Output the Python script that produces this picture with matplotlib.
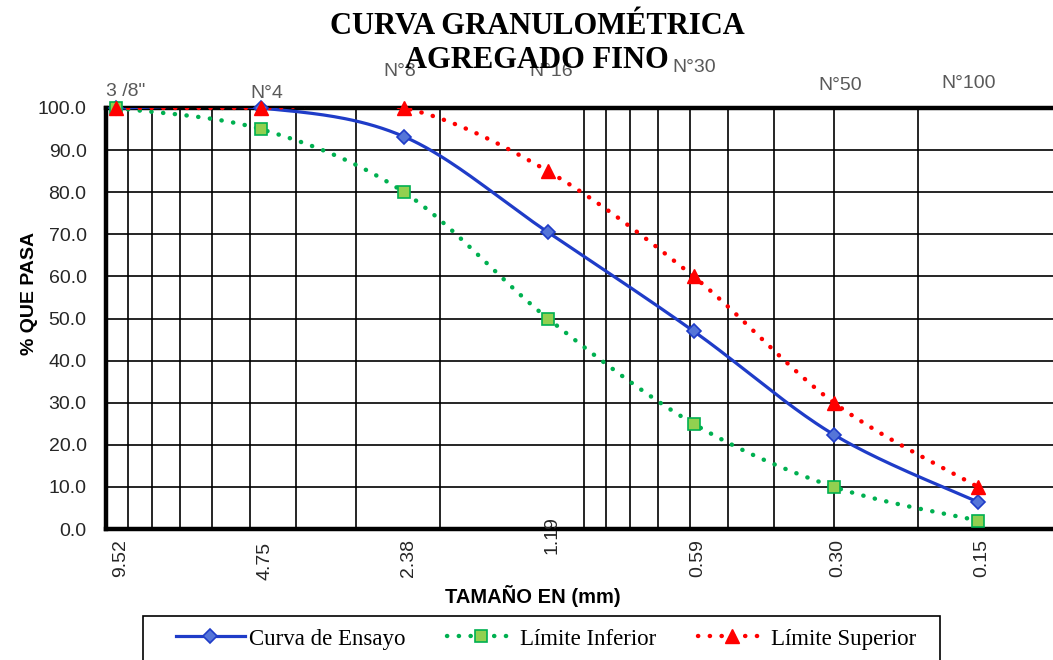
import numpy as np
import matplotlib
matplotlib.use("Agg")
import matplotlib.pyplot as plt
from matplotlib.lines import Line2D
from matplotlib.patches import Rectangle
from matplotlib.ticker import LogLocator, MultipleLocator, FormatStrFormatter, NullFormatter

# Datos de la curva granulométrica
tamices = ['3 /8"', "N°4", "N°8", "N°16", "N°30", "N°50", "N°100"]
abertura_mm = [9.52, 4.75, 2.38, 1.19, 0.59, 0.30, 0.15]
abertura_txt = ["9.52", "4.75", "2.38", "1.19", "0.59", "0.30", "0.15"]
curva_ensayo = [100.0, 100.0, 93.2, 70.5, 47.0, 22.4, 6.4]
limite_inferior = [100.0, 95.0, 80.0, 50.0, 25.0, 10.0, 2.0]
limite_superior = [100.0, 100.0, 100.0, 85.0, 60.0, 30.0, 10.0]

SANS = "Liberation Sans"
SERIF = "Liberation Serif"
AZUL = "#1f3cc8"
VERDE = "#00b050"
ROJO = "#ff0000"


def suavizar(x, y, n=40):
    # curva suavizada tipo Excel (Bezier / Catmull-Rom) en espacio log-x
    P = np.column_stack([np.log10(x), y])
    t = np.linspace(0, 1, n)[:, None]
    partes = []
    for i in range(len(P) - 1):
        p0 = P[i - 1] if i > 0 else P[i]
        p1, p2 = P[i], P[i + 1]
        p3 = P[i + 2] if i + 2 < len(P) else P[i + 1]
        c1 = p1 + (p2 - p0) / 6
        c2 = p2 - (p3 - p1) / 6
        seg = (1 - t) ** 3 * p1 + 3 * (1 - t) ** 2 * t * c1 + 3 * (1 - t) * t ** 2 * c2 + t ** 3 * p2
        partes.append(seg if i == 0 else seg[1:])
    pts = np.vstack(partes)
    return 10 ** pts[:, 0], pts[:, 1]


fig = plt.figure(figsize=(10.53, 6.6), dpi=100)
ax = fig.add_axes([106 / 1053, 131 / 660, 956 / 1053, 421 / 660])

ax.set_xscale("log")
ax.set_xlim(10, 0.1)
ax.set_ylim(0, 100)

ax.xaxis.set_major_locator(LogLocator(base=10))
ax.xaxis.set_minor_locator(LogLocator(base=10, subs=np.arange(2, 10)))
ax.xaxis.set_major_formatter(NullFormatter())
ax.xaxis.set_minor_formatter(NullFormatter())
ax.yaxis.set_major_locator(MultipleLocator(10))
ax.yaxis.set_major_formatter(FormatStrFormatter("%.1f"))
ax.tick_params(which="both", length=0)
ax.tick_params(axis="y", pad=14, labelsize=14, labelcolor="#262626")
for lab in ax.get_yticklabels():
    lab.set_fontfamily(SANS)

ax.set_axisbelow(True)
ax.grid(which="both", axis="x", color="black", lw=1.2)
ax.grid(which="major", axis="y", color="black", lw=1.2)

for s in ["left", "bottom", "top"]:
    ax.spines[s].set_linewidth(3.2)
ax.spines["right"].set_visible(False)

# curvas
estilos = [
    (curva_ensayo, dict(color=AZUL, lw=2.3, ls="-"),
     dict(marker="D", ms=7.5, mfc="#5575d8", mec=AZUL, mew=1.2)),
    (limite_inferior, dict(color=VERDE, lw=3.2, ls=(0, (0.05, 2.6)), dash_capstyle="round"),
     dict(marker="s", ms=9, mfc="#92d050", mec=VERDE, mew=1.2)),
    (limite_superior, dict(color=ROJO, lw=3.2, ls=(0, (0.05, 2.6)), dash_capstyle="round"),
     dict(marker="^", ms=9.5, mfc=ROJO, mec=ROJO, mew=1.0)),
]
for vals, linea, marca in estilos:
    xs, ys = suavizar(abertura_mm, vals)
    ax.plot(xs, ys, **linea, zorder=3)
    ax.plot(abertura_mm, vals, ls="none", **marca, zorder=4, clip_on=False)

# etiquetas de abertura (mm) bajo el eje
alto_txt = [-0.024, -0.03, -0.024, 0.031, -0.024, -0.024, -0.024]
for xv, txt, yy in zip(abertura_mm, abertura_txt, alto_txt):
    ax.annotate(txt, xy=(xv, yy), xycoords=("data", "axes fraction"),
                xytext=(3, 0), textcoords="offset points", rotation=90,
                ha="center", va="top", fontsize=14, family=SANS, color="#262626",
                annotation_clip=False)

# nombres de tamices sobre el gráfico (px relativos)
dx_px = [9, 6, -4, 3, 1, 6, -9]
y_px = [92, 94, 72, 72, 67, 86, 83]
for xv, nom, dx, yp in zip(abertura_mm, tamices, dx_px, y_px):
    ax.annotate(nom, xy=(xv, 1), xycoords=("data", "axes fraction"),
                xytext=(dx * 0.72, -(yp - 108) * 0.72), textcoords="offset points",
                ha="center", va="center", fontsize=14, family=SANS, color="#595959",
                annotation_clip=False)

fig.text(30 / 1053, 1 - 293 / 660, "% QUE PASA", rotation=90, ha="center", va="center",
         fontsize=14, fontweight="bold", family=SANS)
fig.text(533 / 1053, 1 - 596 / 660, "TAMAÑO EN (mm)", ha="center", va="center",
         fontsize=14.5, fontweight="bold", family=SANS)

fig.text(537 / 1053, 1 - 34 / 660, "CURVA GRANULOMÉTRICA", ha="center", va="baseline",
         fontsize=22, fontweight="bold", family=SERIF, zorder=10)
fig.text(537 / 1053, 1 - 68 / 660, "AGREGADO FINO", ha="center", va="baseline",
         fontsize=22, fontweight="bold", family=SERIF, zorder=10)

# leyenda
handles = []
for vals, linea, marca in estilos:
    handles.append(Line2D([], [], **linea, **marca))
labels = ["Curva de Ensayo", "Límite Inferior", "Límite Superior"]
fig.legend(handles, labels, loc="center left", bbox_to_anchor=(176 / 1053, 1 - 639 / 660),
           ncol=3, frameon=False, prop={"family": SERIF, "size": 16.5},
           handlelength=3.0, handletextpad=0.2, columnspacing=1.8,
           borderpad=0, borderaxespad=0)
fig.patches.append(Rectangle((143 / 1053, -0.05), (940 - 143) / 1053, (660 - 616) / 660 + 0.05,
                             transform=fig.transFigure, fill=False, ec="black", lw=1.2))

fig.savefig("out.png", dpi=100)
